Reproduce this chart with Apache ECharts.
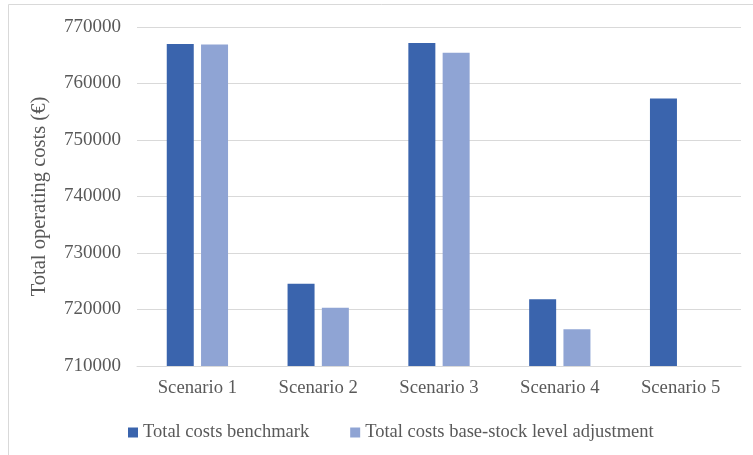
<!DOCTYPE html>
<html>
<head>
<meta charset="utf-8">
<script src="https://cdn.jsdelivr.net/npm/echarts@6/dist/echarts.min.js"></script>
<style>
  html, body { margin: 0; padding: 0; background: #ffffff; }
  #chart { width: 753px; height: 455px; }
</style>
</head>
<body>
<div id="chart"></div>
<script>
// Scenario categories and total operating costs (€)
const categories = ['Scenario 1', 'Scenario 2', 'Scenario 3', 'Scenario 4', 'Scenario 5'];
const benchmarkCosts = [767000, 724550, 767150, 721800, 757350];
const adjustmentCosts = [766900, 720300, 765450, 716500, null];
const seriesNames = ['Total costs benchmark', 'Total costs base-stock level adjustment'];
const yTicks = { min: 710000, max: 770000, interval: 10000 };
const yAxisTitle = 'Total operating costs (€)';

const textColor = '#595959';
const fontFamily = '"Liberation Serif", "Times New Roman", serif';

const chart = echarts.init(document.getElementById('chart'), null, { renderer: 'canvas' });

chart.setOption({
  animation: false,
  backgroundColor: '#ffffff',
  textStyle: { fontFamily: fontFamily, color: textColor },
  graphic: [{
    type: 'rect',
    shape: { x: 8.5, y: 4.5, width: 760, height: 460 },
    style: { fill: 'none', stroke: '#d9d9d9', lineWidth: 1 },
    silent: true,
    z: -1
  }],
  grid: { left: 137, right: 12, top: 27, bottom: 89, containLabel: false },
  legend: {
    data: seriesNames,
    left: 123,
    top: 418,
    icon: 'rect',
    itemWidth: 10,
    itemHeight: 10,
    itemGap: 41,
    textStyle: { fontFamily: fontFamily, fontSize: 18.5, color: textColor }
  },
  xAxis: {
    type: 'category',
    data: categories,
    axisTick: { show: false },
    axisLine: { lineStyle: { color: '#d9d9d9', width: 1 } },
    axisLabel: { fontFamily: fontFamily, fontSize: 18.7, color: textColor, margin: 13 }
  },
  yAxis: {
    type: 'value',
    min: yTicks.min,
    max: yTicks.max,
    interval: yTicks.interval,
    name: yAxisTitle,
    nameLocation: 'middle',
    nameGap: 87,
    nameTextStyle: { fontFamily: fontFamily, fontSize: 20.5, color: textColor },
    axisLine: { show: false },
    axisTick: { show: false },
    splitLine: { lineStyle: { color: '#d9d9d9', width: 1 } },
    axisLabel: {
      fontFamily: fontFamily,
      fontSize: 19,
      color: textColor,
      margin: 16,
      formatter: function (v) { return String(v); }
    }
  },
  series: [
    {
      name: seriesNames[0],
      type: 'bar',
      data: benchmarkCosts,
      barWidth: 27,
      barGap: '27%',
      itemStyle: { color: '#3a64ad' }
    },
    {
      name: seriesNames[1],
      type: 'bar',
      data: adjustmentCosts,
      barWidth: 27,
      itemStyle: { color: '#8fa4d4' }
    }
  ]
});
</script>
</body>
</html>
